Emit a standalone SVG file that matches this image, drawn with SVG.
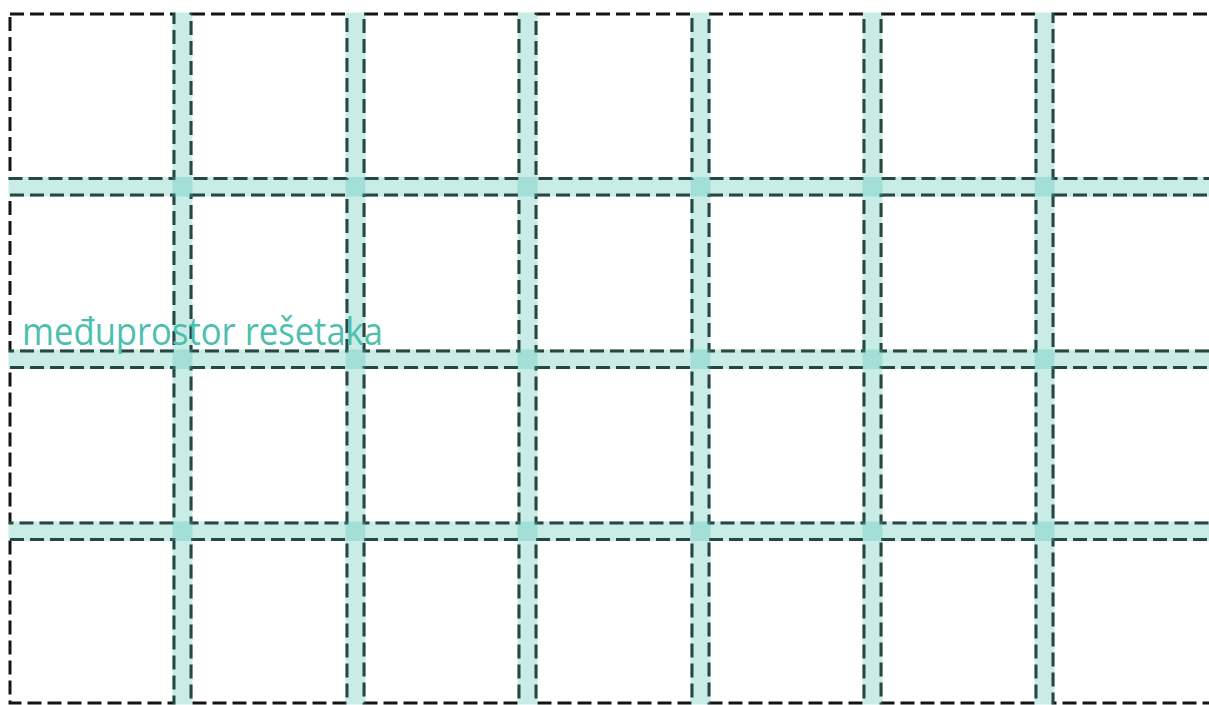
<svg xmlns="http://www.w3.org/2000/svg" width="1209" height="705" viewBox="0 0 1209 705">
<style>
.cell{fill:none;stroke:#151515;stroke-width:3;stroke-dasharray:14 6}
.band{fill:#4cbfb0;fill-opacity:0.3}
.label{font-family:"Open Sans","Liberation Sans",sans-serif;font-size:38px;fill:#4dbfae}
</style>
<rect width="1209" height="705" fill="#ffffff"/>
<g id="cells">
<g id="row1">
<rect class="cell" x="10" y="14" width="164" height="164.5"/>
<rect class="cell" x="191" y="14" width="156" height="164.5"/>
<rect class="cell" x="364" y="14" width="155" height="164.5"/>
<rect class="cell" x="536" y="14" width="156" height="164.5"/>
<rect class="cell" x="709" y="14" width="155" height="164.5"/>
<rect class="cell" x="881" y="14" width="155" height="164.5"/>
<rect class="cell" x="1053" y="14" width="170" height="164.5"/>
</g>
<g id="row2">
<rect class="cell" x="10" y="195" width="164" height="156"/>
<rect class="cell" x="191" y="195" width="156" height="156"/>
<rect class="cell" x="364" y="195" width="155" height="156"/>
<rect class="cell" x="536" y="195" width="156" height="156"/>
<rect class="cell" x="709" y="195" width="155" height="156"/>
<rect class="cell" x="881" y="195" width="155" height="156"/>
<rect class="cell" x="1053" y="195" width="170" height="156"/>
</g>
<g id="row3">
<rect class="cell" x="10" y="367.5" width="164" height="155.5"/>
<rect class="cell" x="191" y="367.5" width="156" height="155.5"/>
<rect class="cell" x="364" y="367.5" width="155" height="155.5"/>
<rect class="cell" x="536" y="367.5" width="156" height="155.5"/>
<rect class="cell" x="709" y="367.5" width="155" height="155.5"/>
<rect class="cell" x="881" y="367.5" width="155" height="155.5"/>
<rect class="cell" x="1053" y="367.5" width="170" height="155.5"/>
</g>
<g id="row4">
<rect class="cell" x="10" y="539.5" width="164" height="163.5"/>
<rect class="cell" x="191" y="539.5" width="156" height="163.5"/>
<rect class="cell" x="364" y="539.5" width="155" height="163.5"/>
<rect class="cell" x="536" y="539.5" width="156" height="163.5"/>
<rect class="cell" x="709" y="539.5" width="155" height="163.5"/>
<rect class="cell" x="881" y="539.5" width="155" height="163.5"/>
<rect class="cell" x="1053" y="539.5" width="170" height="163.5"/>
</g>
</g>
<text id="label" class="label" x="22" y="345" textLength="361" lengthAdjust="spacingAndGlyphs">međuprostor rešetaka</text>
<g id="gutters">
<rect class="band" x="172.5" y="12.5" width="20" height="692"/>
<rect class="band" x="345.5" y="12.5" width="20" height="692"/>
<rect class="band" x="517.5" y="12.5" width="20" height="692"/>
<rect class="band" x="690.5" y="12.5" width="20" height="692"/>
<rect class="band" x="862.5" y="12.5" width="20" height="692"/>
<rect class="band" x="1034.5" y="12.5" width="20" height="692"/>
<rect class="band" x="8.5" y="177" width="1201" height="19.5"/>
<rect class="band" x="8.5" y="349.5" width="1201" height="19.5"/>
<rect class="band" x="8.5" y="521.5" width="1201" height="19.5"/>
</g>
</svg>
